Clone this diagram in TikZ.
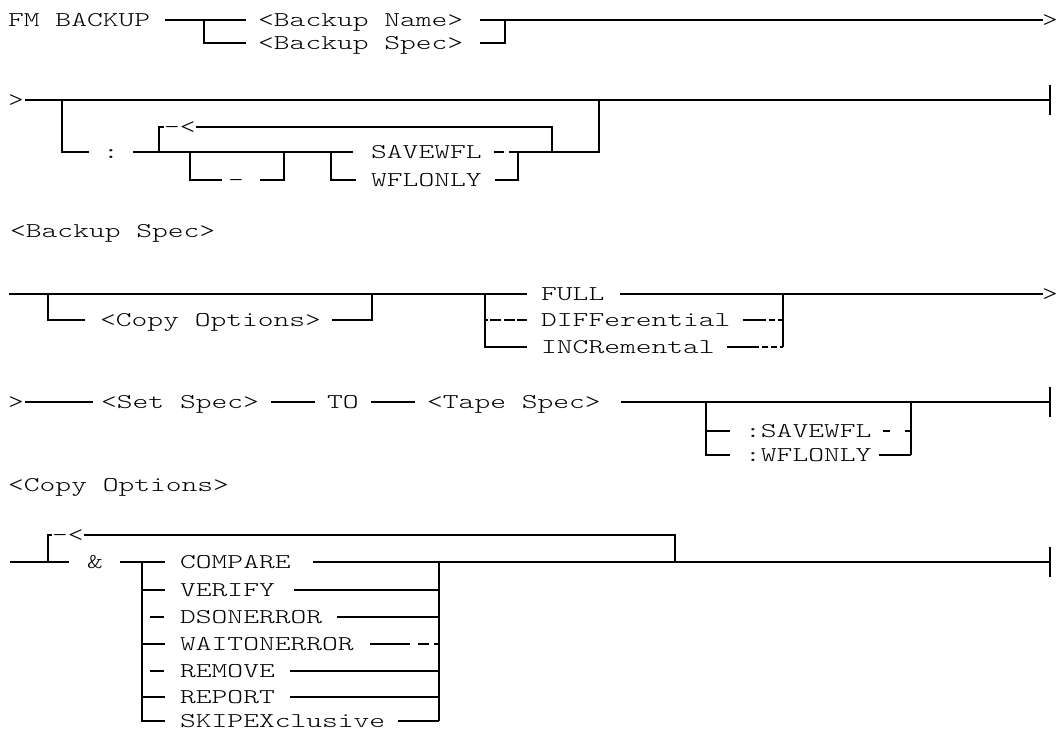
\documentclass[tikz,border=0pt]{standalone}
\usepackage{fontspec}
\setmonofont{lmmonolt10-regular.otf}[FakeStretch=1.43]
\usepackage{tikz}
\usetikzlibrary{calc}

\tikzset{
  rail/.style={line width=1.8pt},
  hyline/.style={line width=1.2pt},
  endbar/.style={line width=1.5pt},
  kw/.style={anchor=west,inner sep=0pt,text height=12.8pt,text depth=0pt,font=\ttfamily\fontsize{21}{25}\selectfont}
}

\begin{document}
\begin{tikzpicture}[x=1pt,y=-1pt]
  \useasboundingbox (0,0) rectangle (1060,730);
  % FM BACKUP line
  \node[kw] (fm) at (8,20) {FM BACKUP};
  \node[kw] (bname) at (258,20) {<Backup Name>};
  \node[kw] (bspec) at (258,43) {<Backup Spec>};
  \node[kw] (gtA) at (1042,20) {>};
  \coordinate (splitA) at (204,20);
  \coordinate (joinA) at (505,20);
  \draw[rail] ([xshift=15]fm.east) -- ([xshift=-12]bname.west);
  \draw[rail] (splitA) |- ([xshift=-12]bspec.west);
  \draw[rail] ([xshift=17]bname.east) -- ([xshift=1]gtA.west);
  \draw[rail] ([xshift=17]bspec.east) -| (joinA);
  % continuation with : options
  \node[kw] (gtB) at (8,100) {>};
  \node[kw] (colon) at (103,152) {:};
  \node[kw] (loopB) at (164,127) {-<};
  \node[kw] (minus) at (228,180) {-};
  \node[kw] (savew) at (371,152) {SAVEWFL};
  \node[kw] (wflo) at (371,180) {WFLONLY};
  \coordinate (endB) at (1050,100);
  \coordinate (optB) at (62,100);
  \coordinate (optBend) at (599,100);
  \coordinate (loopBs) at (159,152);
  \coordinate (loopBe) at (552,152);
  \coordinate (minusS) at (190,152);
  \coordinate (minusE) at (284,152);
  \coordinate (wfloS) at (331,152);
  \coordinate (wfloE) at (518,152);
  \draw[rail] ([xshift=1]gtB.east) -- (endB);
  \draw[endbar] ([yshift=15]endB) -- ([yshift=-15]endB);
  \draw[rail] (optB) |- ([xshift=-14]colon.west);
  \draw[rail] ([xshift=14]colon.east) -- ([xshift=-18]savew.west);
  \draw[rail] (loopBs) |- (loopB.west);
  \draw[rail] (loopB.east) -| (loopBe);
  \draw[rail] (minusS) |- ([xshift=-6]minus.west);
  \draw[rail] ([xshift=16]minus.east) -| (minusE);
  \draw[rail] (wfloS) |- ([xshift=-15]wflo.west);
  \draw[rail] ([xshift=13]wflo.east) -| (wfloE);
  \draw[hyline] ([xshift=12]savew.east) -- ([xshift=22]savew.east);
  \draw[rail] ([xshift=27]savew.east) -| (optBend);
  % Backup Spec
  \node[kw] (hdrspec) at (10,231) {<Backup Spec>};
  \node[kw] (copt) at (100,320) {<Copy Options>};
  \node[kw] (full) at (541,294) {FULL};
  \node[kw] (diff) at (541,320) {DIFFerential};
  \node[kw] (incr) at (541,347) {INCRemental};
  \node[kw] (gtD) at (1042,294) {>};
  \coordinate (startD) at (9,294);
  \coordinate (coS) at (48,294);
  \coordinate (coE) at (372,294);
  \coordinate (modeS) at (485,294);
  \coordinate (modeE) at (783,294);
  \draw[rail] (startD) -- ([xshift=-14]full.west);
  \draw[rail] (coS) |- ([xshift=-15]copt.west);
  \draw[rail] ([xshift=11]copt.east) -| (coE);
  \draw[rail] (modeS) |- ([xshift=-14]incr.west);
  \draw[rail] (modeS |- diff.west) -- ([xshift=-53]diff.west);
  \draw[hyline,dash pattern=on 11pt off 3pt] ([xshift=-51]diff.west) -- ([xshift=-26]diff.west);
  \draw[rail] ([xshift=-24]diff.west) -- ([xshift=-14]diff.west);
  \draw[rail] ([xshift=16]full.east) -- ([xshift=1]gtD.west);
  \draw[rail] (modeE) -- (modeE |- incr.west);
  \draw[rail] ([xshift=12]diff.east) -- ([xshift=29]diff.east);
  \draw[hyline,dash pattern=on 6pt off 3pt] ([xshift=29]diff.east) -- (modeE |- diff.west);
  \draw[rail] ([xshift=12]incr.east) -- ([xshift=38]incr.east);
  \draw[hyline,dash pattern=on 6pt off 3pt] ([xshift=38]incr.east) -- (modeE |- incr.west);
  % Set Spec TO Tape Spec
  \node[kw] (gtE) at (8,402) {>};
  \node[kw] (setsp) at (101,402) {<Set Spec>};
  \node[kw] (to) at (327,402) {TO};
  \node[kw] (tape) at (427,402) {<Tape Spec>};
  \node[kw] (csave) at (745,431) {:SAVEWFL};
  \node[kw] (cwfl) at (745,455) {:WFLONLY};
  \coordinate (endE) at (1050,402);
  \coordinate (sfxS) at (706,402);
  \coordinate (sfxE) at (911,402);
  \draw[rail] ([xshift=1]gtE.east) -- ([xshift=-8]setsp.west);
  \draw[rail] ([xshift=12]setsp.east) -- ([xshift=-12]to.west);
  \draw[rail] ([xshift=12]to.east) -- ([xshift=-12]tape.west);
  \draw[rail] ([xshift=20]tape.east) -- (endE);
  \draw[endbar] ([yshift=15]endE) -- ([yshift=-15]endE);
  \draw[rail] (sfxS) |- ([xshift=-15]cwfl.west);
  \draw[rail] (sfxS |- csave.west) -- ([xshift=-15]csave.west);
  \draw[hyline] ([xshift=11]csave.east) -- ([xshift=18]csave.east);
  \draw[rail] ([xshift=33]csave.east) -- (sfxE |- csave.west);
  \draw[rail] (sfxE) -- (sfxE |- cwfl.west);
  \draw[rail] ([xshift=7]cwfl.east) -- (sfxE |- cwfl.west);
  % Copy Options
  \node[kw] (hdrcopy) at (8,485) {<Copy Options>};
  \node[kw] (loopG) at (52,535) {-<};
  \node[kw] (amp) at (87,562) {\&};
  \node[kw] (cmp) at (180,562) {COMPARE};
  \node[kw] (vfy) at (180,590) {VERIFY};
  \node[kw] (dso) at (180,617) {DSONERROR};
  \node[kw] (wait) at (180,644) {WAITONERROR};
  \node[kw] (rem) at (180,671) {REMOVE};
  \node[kw] (rep) at (180,697) {REPORT};
  \node[kw] (skip) at (180,721) {SKIPEXclusive};
  \coordinate (startG) at (10,562);
  \coordinate (loopGs) at (48,562);
  \coordinate (loopGe) at (675,562);
  \coordinate (itemS) at (142,562);
  \coordinate (itemE) at (439,562);
  \coordinate (endG) at (1050,562);
  \draw[rail] (startG) -- ([xshift=-18]amp.west);
  \draw[rail] (loopGs) |- (loopG.west);
  \draw[rail] (loopG.east) -| (loopGe);
  \draw[rail] ([xshift=17]amp.east) -- ([xshift=-15]cmp.west);
  \draw[rail] (itemS) |- ([xshift=-15]skip.west);
  \foreach \n in {vfy,wait,rep}
    \draw[rail] (itemS |- \n.west) -- ([xshift=-15]\n.west);
  \foreach \n in {dso,rem}
    \draw[hyline] ([xshift=-30]\n.west) -- ([xshift=-16]\n.west);
  \draw[hyline] ([xshift=22]cmp.east) -- ([xshift=31]cmp.east);
  \draw[rail] ([xshift=31]cmp.east) -- (endG);
  \draw[hyline] ([xshift=19]vfy.east) -- ([xshift=27]vfy.east);
  \draw[rail] ([xshift=27]vfy.east) -- (itemE |- vfy.west);
  \draw[rail] ([xshift=16]wait.east) -- ([xshift=56]wait.east);
  \draw[hyline] ([xshift=64]wait.east) -- ([xshift=75]wait.east);
  \draw[rail] ([xshift=80]wait.east) -- (itemE |- wait.west);
  \foreach \n/\s in {dso/15,rem/15,rep/15,skip/13}
    \draw[rail] ([xshift=\s]\n.east) -- (itemE |- \n.west);
  \draw[rail] (itemE) -- (itemE |- skip.west);
  \draw[endbar] ([yshift=15]endG) -- ([yshift=-15]endG);
\end{tikzpicture}
\end{document}
